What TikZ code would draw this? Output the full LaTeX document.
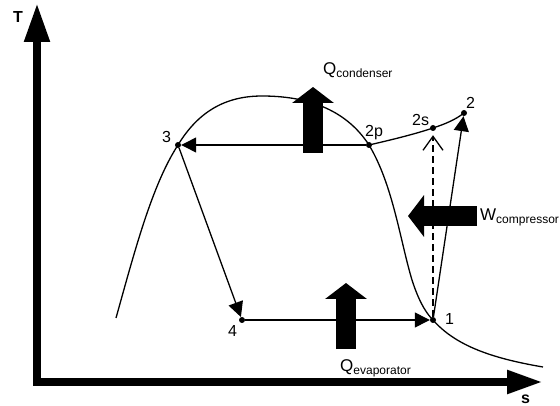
\documentclass[tikz,border=0pt]{standalone}
\usepackage{fontspec}
\setmainfont{Liberation Sans}
\usetikzlibrary{arrows.meta}
\newcommand{\subtxt}[1]{\raisebox{-3pt}{\fontsize{12}{12}\selectfont #1}}

\tikzset{
  pt/.style={circle, fill=black, inner sep=0pt, minimum size=6pt},
  lbl/.style={anchor=base west, inner sep=0pt, font=\fontsize{16}{16}\selectfont},
  qlbl/.style={anchor=base west, inner sep=0pt, font=\fontsize{17}{17}\selectfont},
  curve/.style={line width=1.3pt},
  flow/.style={line width=1.3pt, -{Triangle[length=15pt,width=15pt]}},
  ideal/.style={line width=1.3pt, dash pattern=on 7pt off 4pt,
    -{Straight Barb[length=14pt,width=20pt,line width=1.3pt]}, shorten >=4pt},
  block/.style={line width=20pt, -{Triangle[length=16pt,width=41pt]}},
  axis/.style={line width=8pt, line join=miter,
    {Triangle[length=39pt,width=24pt]}-{Triangle[length=36pt,width=22pt]}}
}

\begin{document}
\begin{tikzpicture}[x=1pt,y=-1pt]
\useasboundingbox (0,0) rectangle (560,406);
% axes
\coordinate (tmax) at (37,3);
\coordinate (origin) at (37,382);
\coordinate (smax) at (543,382);
\draw[axis] (tmax) -- (origin) -- (smax);
\node[lbl, font=\bfseries\fontsize{16}{16}\selectfont] (tlbl) at (13,23) {T};
\node[lbl, font=\bfseries\fontsize{16}{16}\selectfont] (slbl) at (521,403) {s};

% state points
\node[pt] (p3) at (178,145) {};
\node[pt] (p2p) at (369,145) {};
\node[pt] (p2s) at (433,128) {};
\node[pt] (p2) at (464,113) {};
\node[pt] (p1) at (433,320) {};
\node[pt] (p4) at (242,320) {};

% saturation dome
\draw[curve] (116,318) .. controls (135,250) and (152,185) .. (p3.center)
  .. controls (198,112) and (225,96) .. (262,96)
  .. controls (305,96) and (345,108) .. (p2p.center)
  .. controls (393,185) and (400,240) .. (412,280)
  .. controls (420,305) and (428,315) .. (p1.center)
  .. controls (455,345) and (490,358) .. (543,367);
% superheated line
\draw[curve] (p2p.center) .. controls (395,139) and (415,134) .. (p2s.center)
  .. controls (445,124) and (455,120) .. (p2.center);

% cycle
\draw[flow] (p2p) -- (p3);
\draw[flow] (p3) -- (p4);
\draw[flow] (p4) -- (p1);
\draw[flow] (p1) -- (p2);
\draw[ideal] (p1) -- (p2s);

\node[lbl] (l3) at (162,143) {3};
\node[lbl] (l2p) at (365,137) {2p};
\node[lbl] (l2s) at (412,126) {2s};
\node[lbl] (l2) at (466,109) {2};
\node[lbl] (l1) at (445,325) {1};
\node[lbl] (l4) at (228,337) {4};

% heat and work
\coordinate (qcb) at (313,153);
\coordinate (qct) at (313,87);
\coordinate (qeb) at (346,349);
\coordinate (qet) at (346,283);
\coordinate (wr) at (477,216);
\coordinate (wl) at (408,216);
\draw[block] (qcb) -- (qct);
\draw[block] (qeb) -- (qet);
\draw[block] (wr) -- (wl);
\node[qlbl] (qclbl) at (323,75) {Q\subtxt{condenser}};
\node[qlbl] (qelbl) at (340,371) {Q\subtxt{evaporator}};
\node[qlbl] (wlbl) at (480,221) {W\subtxt{compressor}};
\end{tikzpicture}
\end{document}
